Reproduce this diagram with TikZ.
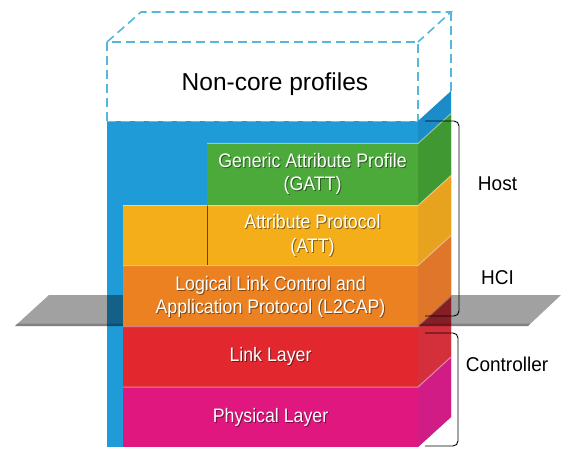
\documentclass[tikz,border=0pt]{standalone}
\usepackage{fontspec}
\setmainfont{Liberation Sans}
\newfontfamily\narrowfont[FakeStretch=0.91]{Liberation Sans}
\newfontfamily\labelfont[FakeStretch=0.95]{Liberation Sans}

% palette
\definecolor{plateblue}{HTML}{1F9BD7}
\definecolor{plateside}{HTML}{1A8DC8}
\definecolor{dashblue}{HTML}{56B7DC}
\definecolor{gattfront}{HTML}{4BAA3A}
\definecolor{gattside}{HTML}{3F9832}
\definecolor{attfront}{HTML}{F4AE1A}
\definecolor{attside}{HTML}{E8A31E}
\definecolor{lcapfront}{HTML}{EC8121}
\definecolor{lcapside}{HTML}{E07629}
\definecolor{linkfront}{HTML}{E2272F}
\definecolor{linkside}{HTML}{D4303B}
\definecolor{phyfront}{HTML}{DF177F}
\definecolor{physide}{HTML}{D11C86}

\tikzset{
  face/.style={draw=none, inner sep=0pt, anchor=north west},
  layertext/.style={text=white, font=\narrowfont\fontsize{19.5}{23.5}\selectfont, align=center, inner sep=0pt},
  layershadow/.style={text=black, opacity=0.45, font=\narrowfont\fontsize{19.5}{23.5}\selectfont, align=center, inner sep=0pt},
  sidelabel/.style={text=black, font=\labelfont\fontsize{20}{24}\selectfont, inner sep=0pt},
  bracket/.style={draw=black, line width=0.9pt, rounded corners=5pt},
  ghost/.style={draw=dashblue, line width=1.6pt, dash pattern=on 9pt off 5pt},
  topedge/.style={draw=white, opacity=0.45, line width=1pt},
}

% side face of a layer whose front spans y = #1 .. #2
\newcommand\sideface[3]{%
  \fill[#3] (418,#1) -- (451,#1-30) -- (451,#2-30) -- (418,#2) -- cycle;}

\begin{document}
\begin{tikzpicture}[x=1pt,y=-1pt]
\useasboundingbox (0,0) rectangle (561,449);

% ---- dashed outline of the non-core block ----
\draw[ghost] (107,121) -- (107,42) -- (418,42) -- (418,121);
\draw[ghost] (107,42) -- (141,12) -- (451,12) -- (418,42);
\draw[ghost] (451,12) -- (451,91);
\node[font=\fontsize{24.5}{28}\selectfont, inner sep=0pt] (noncore) at (275,84.5) {Non-core profiles};

% ---- blue back plate ----
\node[face, fill=plateblue, minimum width=311pt, minimum height=326pt] (plate) at (107,121) {};
\fill[plateside] (418,121) -- (451,91) -- (451,417) -- (418,447) -- cycle;
\draw[dashblue!60!white, line width=1pt, dash pattern=on 9pt off 5pt, opacity=0.6] (107,121.5) -- (418,121.5);

% ---- controller layers (below the HCI plane) ----
\node[face, fill=linkfront, minimum width=295pt, minimum height=61pt] (link) at (123,326) {};
\sideface{326}{387}{linkside}
\node[face, fill=phyfront, minimum width=295pt, minimum height=60pt] (phy) at (123,387) {};
\sideface{387}{447}{physide}
\draw[topedge] (123,387) -- (418,387) -- (451,357);
\draw[topedge] (123,326.5) -- (418,326.5) -- (451,296.5);

% ---- HCI plane ----
\fill[black, opacity=0.37] (15,326) -- (49,295) -- (561,295) -- (528,326) -- cycle;
\fill[black, opacity=0.2] (15,326) -- (17,323.5) -- (530.5,323.5) -- (528,326) -- cycle;

% ---- host layers ----
\node[face, fill=lcapfront, minimum width=295pt, minimum height=61pt] (lcap) at (123,265) {};
\sideface{265}{326}{lcapside}
\node[face, fill=attfront, minimum width=295pt, minimum height=60pt] (att) at (123,205) {};
\sideface{205}{265}{attside}
\node[face, fill=gattfront, minimum width=211pt, minimum height=62pt] (gatt) at (207,143) {};
\sideface{143}{205}{gattside}
\draw[black!60!attfront, line width=0.8pt] (207,205) -- (207,265);
\draw[topedge] (123,265.5) -- (418,265.5) -- (451,235.5);
\draw[topedge] (123,205.5) -- (207,205.5);
\draw[topedge] (207,205.5) -- (418,205.5) -- (451,175.5);
\draw[topedge] (207,143.5) -- (418,143.5) -- (451,113.5);

% ---- layer names ----
\foreach \pos/\txt in {
  {312.5,174}/{Generic Attribute Profile\\(GATT)},
  {312.5,235.5}/{Attribute Protocol\\(ATT)},
  {270.5,297}/{Logical Link Control and\\Application Protocol (L2CAP)},
  {270.5,356.5}/{Link Layer},
  {270.5,417}/{Physical Layer}}
  \node[layershadow] at ([shift={(1,1)}]\pos) {\txt};
\node[layertext] (gattname) at (312.5,174) {Generic Attribute Profile\\(GATT)};
\node[layertext] (attname) at (312.5,235.5) {Attribute Protocol\\(ATT)};
\node[layertext] (lcapname) at (270.5,297) {Logical Link Control and\\Application Protocol (L2CAP)};
\node[layertext] (linkname) at (270.5,356.5) {Link Layer};
\node[layertext] (phyname) at (270.5,417) {Physical Layer};

% ---- host / controller braces ----
\coordinate (hosttop) at (425,121);
\coordinate (hostbot) at (425,316);
\coordinate (ctrltop) at (425,333);
\coordinate (ctrlbot) at (425,446);
\draw[bracket] (hosttop) -- (459,121) -- (459,316) -- (hostbot);
\draw[bracket] (ctrltop) -- (458,333) -- (458,446) -- (ctrlbot);

\node[sidelabel] (host) at (497.5,184) {Host};
\node[sidelabel] (hci) at (497.5,278) {HCI};
\node[sidelabel] (ctrl) at (507,364.5) {Controller};
\end{tikzpicture}
\end{document}
